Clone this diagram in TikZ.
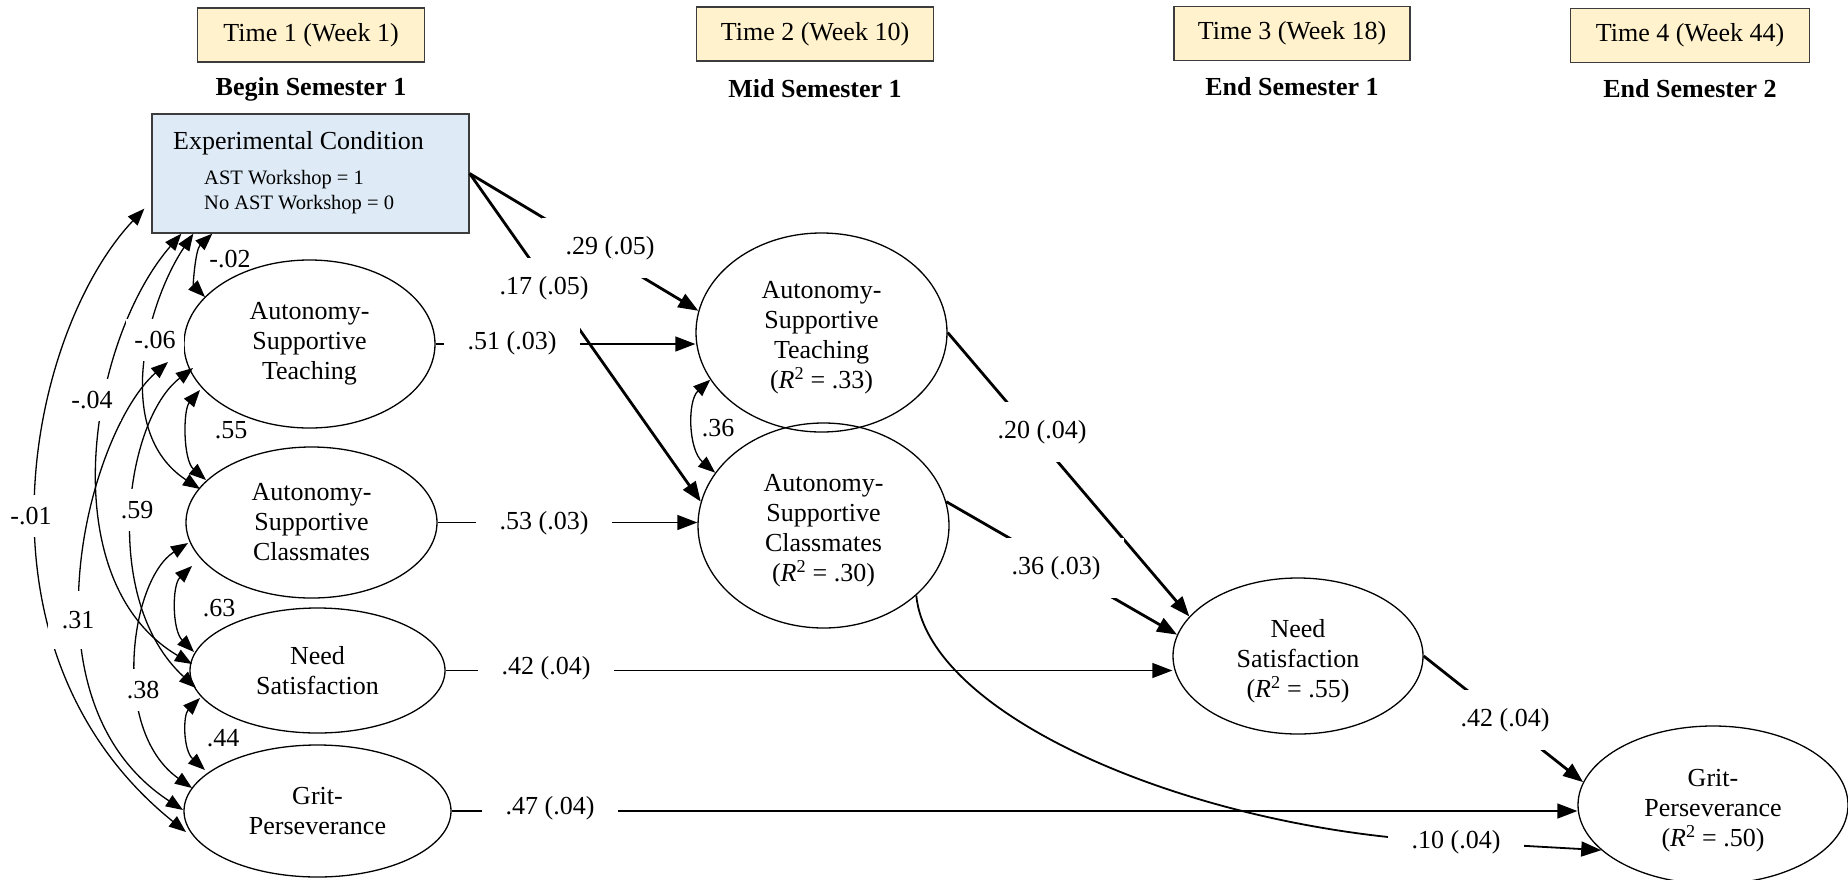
\documentclass[tikz,border=0pt]{standalone}
\usepackage{fontspec}
\setmainfont{Liberation Serif}
\usetikzlibrary{arrows.meta,shapes.geometric}
\definecolor{hdrfill}{RGB}{255,242,204}
\definecolor{expfill}{RGB}{222,235,247}
\definecolor{boxline}{RGB}{60,60,60}
\newcommand\fsz{\fontsize{26}{30}\selectfont}
\newcommand\fsm{\fontsize{20.5}{24}\selectfont}
\begin{document}
\begin{tikzpicture}[x=1pt,y=1pt,
  tbox/.style={draw=boxline,line width=1.6pt,fill=hdrfill,minimum height=54pt,inner sep=0pt,font=\fsz},
  hdr/.style={font=\fsz\bfseries,anchor=base,inner sep=0pt},
  lat/.style={ellipse,draw,line width=1.3pt,inner sep=0pt,align=center,font=\fsz},
  lattext/.style={inner sep=0pt,align=center,font=\fsz},
  plbl/.style={fill=white,inner xsep=24pt,inner ysep=18pt,font=\fsz},
  albl/.style={fill=white,inner xsep=8pt,inner ysep=12pt,font=\fsz},
  slbl/.style={inner sep=0pt,font=\fsz},
  reg/.style={line width=1.3pt,-{Triangle[length=20pt,width=15pt]}},
  heavy/.style={line width=2.8pt},
  cor/.style={line width=1.3pt,{Triangle[length=17pt,width=13pt]}-{Triangle[length=17pt,width=13pt]}}]
\useasboundingbox (0,0) rectangle (1848,-879);

% time headers
\node[tbox,minimum width=227pt] (t1) at (311,-35) {Time 1 (Week 1)};
\node[tbox,minimum width=237pt] (t2) at (815,-34) {Time 2 (Week 10)};
\node[tbox,minimum width=236pt] (t3) at (1292,-33.5) {Time 3 (Week 18)};
\node[tbox,minimum width=239pt] (t4) at (1690,-35.5) {Time 4 (Week 44)};
\node[hdr] (h1) at (311,-95) {Begin Semester 1};
\node[hdr] (h2) at (815,-97) {Mid Semester 1};
\node[hdr] (h3) at (1292,-95) {End Semester 1};
\node[hdr] (h4) at (1690,-97) {End Semester 2};

% experimental condition
\node[draw=boxline,line width=1.3pt,fill=expfill,minimum width=317pt,minimum height=119pt,inner sep=0pt] (exp) at (310.5,-173.5) {};
\node[anchor=base west,inner sep=0pt,font=\fsz] (expt) at (173,-149) {Experimental Condition};
\node[anchor=base west,inner sep=0pt,font=\fsm] (expa) at (204,-184) {AST Workshop = 1};
\node[anchor=base west,inner sep=0pt,font=\fsm] (expb) at (204,-209) {No AST Workshop = 0};

% latent variables
\node[lat,minimum width=251pt,minimum height=168pt] (ast1) at (309.5,-344) {Autonomy-\\Supportive\\Teaching};
\node[lat,minimum width=251pt,minimum height=151pt] (asc1) at (311.5,-522.5) {Autonomy-\\Supportive\\Classmates};
\node[lat,minimum width=255pt,minimum height=125pt] (need1) at (317.5,-670.5) {Need\\Satisfaction};
\node[lat,minimum width=267pt,minimum height=132pt] (grit1) at (317.5,-811) {Grit-\\Perseverance};
\node[lat,minimum width=251pt,minimum height=199pt] (ast2) at (821.5,-332.5) {};
\node[lat,minimum width=251pt,minimum height=205pt] (asc2) at (823.5,-525.5) {};
\node[lat,minimum width=250pt,minimum height=156pt] (need3) at (1298,-656) {};
\node[lat,minimum width=270pt,minimum height=158pt] (grit4) at (1713,-805) {};
\node[lattext] (ast2t) at ([yshift=-5.5]ast2.center) {Autonomy-\\Supportive\\Teaching\\(\textit{R}\textsuperscript{2} = .33)};
\node[lattext] (asc2t) at ([yshift=-5.5]asc2.center) {Autonomy-\\Supportive\\Classmates\\(\textit{R}\textsuperscript{2} = .30)};
\node[lattext] (need3t) at ([yshift=-5.5]need3.center) {Need\\Satisfaction\\(\textit{R}\textsuperscript{2} = .55)};
\node[lattext] (grit4t) at ([yshift=-5.5]grit4.center) {Grit-\\Perseverance\\(\textit{R}\textsuperscript{2} = .50)};

% regression paths
\draw[reg,heavy] (exp.east) -- (ast2.170);
\draw[reg,heavy] (exp.east) -- (asc2.169);
\draw[reg] (ast1.east) -- (ast1.east -| ast2.west);
\draw[reg] (asc1.east) -- (asc1.east -| asc2.west);
\draw[reg] (need1.east) -- (need1.east -| need3.west);
\draw[reg] (grit1.east) -- (grit1.east -| grit4.west);
\draw[reg,heavy] (ast2.east) -- (need3.160);
\draw[reg,heavy] (asc2.11) -- (need3.170);
\draw[reg,heavy] (need3.east) -- (grit4.170);
\coordinate (c10) at (1456,-842);
\draw[reg,line width=1.8pt] (asc2.-37) .. controls +(12,-123) and +(-256,10) .. (c10) -- (grit4.202);

% correlations
\draw[cor] ([shift={(61,0)}]exp.south west) .. controls +(-17,-16) and +(-12,12) .. ([shift={(-104.5,47)}]ast1.center);
\draw[cor] ([shift={(42,0)}]exp.south west) .. controls +(-44,-65) and +(-90,59) .. ([shift={(-111.5,33.5)}]asc1.center);
\draw[cor] ([shift={(30,0)}]exp.south west) .. controls +(-92,-106) and +(-142,84) .. ([shift={(-125.5,6.5)}]need1.center);
\draw[cor] ([shift={(-7,25)}]exp.south west) .. controls +(-115,-122) and +(-226,182) .. ([shift={(-131.5,-21)}]grit1.center);
\draw[cor] ([shift={(-141.5,-18)}]ast1.center) .. controls +(-78,-68) and +(-168,110) .. ([shift={(-134.5,1)}]grit1.center);
\draw[cor] ([shift={(-116.5,-24)}]ast1.center) .. controls +(-68,-52) and +(-96,88) .. ([shift={(-121.5,-17.5)}]need1.center);
\draw[cor] ([shift={(-123.5,-20.5)}]asc1.center) .. controls +(-58,-37) and +(-82,58) .. ([shift={(-125.5,23)}]grit1.center);
\draw[cor] ([shift={(-109.5,-46)}]ast1.center) .. controls +(-17,-20) and +(-23,20) .. ([shift={(-105.5,42.5)}]asc1.center);
\draw[cor] ([shift={(-119.5,-43.5)}]asc1.center) .. controls +(-20,-19) and +(-22,22) .. ([shift={(-123.5,18.5)}]need1.center);
\draw[cor] ([shift={(-117.5,-27.5)}]need1.center) .. controls +(-17,-17) and +(-22,20) .. ([shift={(-112.5,41)}]grit1.center);
\draw[cor] (ast2.203) .. controls +(-23,-21) and +(-27,23) .. (asc2.154);

% path labels
\node[plbl] (l29) at (610,-248) {.29 (.05)};
\node[plbl] (l17) at (544,-288) {.17 (.05)};
\node[plbl] (l51) at (512,-343) {.51 (.03)};
\node[plbl] (l53) at (544,-523) {.53 (.03)};
\node[plbl] (l42a) at (546,-668) {.42 (.04)};
\node[plbl] (l47) at (550,-808) {.47 (.04)};
\node[plbl] (l20) at (1042,-432) {.20 (.04)};
\node[plbl] (l36b) at (1056,-568) {.36 (.03)};
\node[plbl] (l42b) at (1505,-720) {.42 (.04)};
\node[plbl,inner ysep=6pt] (l10) at (1456,-842) {.10 (.04)};

% correlation labels
\node[albl] (lm01) at (31,-516) {-.01};
\node[albl] (lm04) at (92,-400) {-.04};
\node[albl] (lm06) at (155,-340) {-.06};
\node[albl,inner xsep=14pt,inner ysep=20pt] (l31) at (78,-620) {.31};
\node[albl] (l59) at (137,-510) {.59};
\node[albl] (l38) at (143,-690) {.38};
\node[slbl] (lm02) at (230,-259) {-.02};
\node[slbl] (l55) at (231,-430) {.55};
\node[slbl] (l63) at (219,-608) {.63};
\node[slbl] (l44) at (223,-738) {.44};
\node[slbl] (l36a) at (718,-428) {.36};
\end{tikzpicture}
\end{document}
